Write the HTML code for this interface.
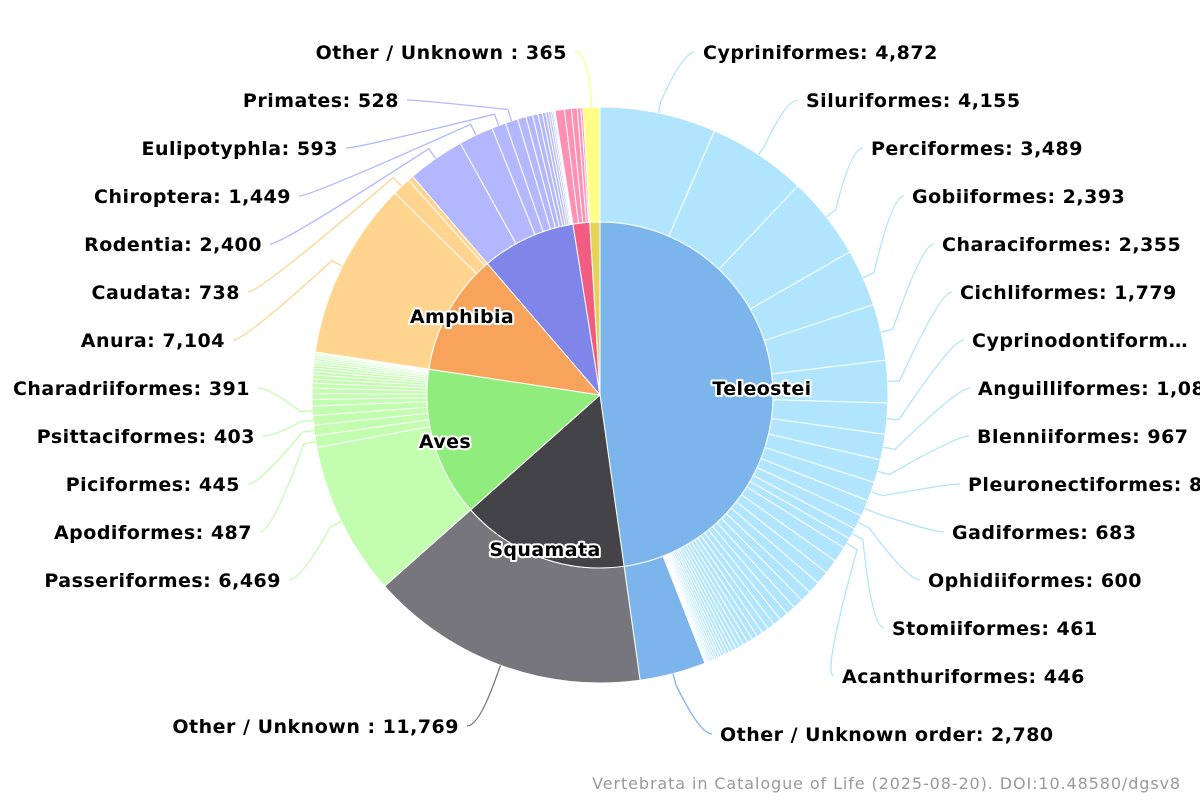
<!DOCTYPE html>
<html><head><meta charset="utf-8"><style>
html,body{margin:0;padding:0;background:#fff;overflow:hidden;}
svg{display:block;font-family:"DejaVu Sans","Liberation Sans",sans-serif;}
</style></head><body>
<svg id="s" width="1200" height="800" viewBox="0 0 1200 800" xmlns="http://www.w3.org/2000/svg"></svg>
<script>
const S=document.getElementById('s');const NS='http://www.w3.org/2000/svg';
const cx=600,cy=395,R0=173,R1=288;
function el(t,a,txt){const e=document.createElementNS(NS,t);for(const k in a)e.setAttribute(k,a[k]);if(txt!=null)e.textContent=txt;S.appendChild(e);return e;}
function pt(r,d){const a=d*Math.PI/180;return [cx+r*Math.sin(a),cy-r*Math.cos(a)];}
function arc(ri,ro,a0,a1,fill){
 const l=(a1-a0)>180?1:0;const p0=pt(ro,a0),p1=pt(ro,a1);
 let d;
 if(ri===0){d=`M${cx},${cy}L${p0}A${ro},${ro} 0 ${l} 1 ${p1}Z`;}
 else{const q1=pt(ri,a1),q0=pt(ri,a0);d=`M${p0}A${ro},${ro} 0 ${l} 1 ${p1}L${q1}A${ri},${ri} 0 ${l} 0 ${q0}Z`;}
 el('path',{d,fill,stroke:'#fff','stroke-width':1,'stroke-linejoin':'round'});
}
function geo(n,total,r){let v=[];for(let i=0;i<n;i++)v.push(Math.pow(r,i));const s=v.reduce((a,b)=>a+b);return v.map(x=>x*total/s);}
const groups=[
 {name:'Teleostei',a0:0,a1:172,c:'#7cb5ec',oc:'#b0e5fd',ch:[['Cypriniformes: 4,872',4872],['Siluriformes: 4,155',4155],['Perciformes: 3,489',3489],['Gobiiformes: 2,393',2393],['Characiformes: 2,355',2355],['Cichliformes: 1,779',1779],['Cyprinodontiform…',1300],['Anguilliformes: 1,080',1080],['Blenniiformes: 967',967],['Pleuronectiformes: 814',800],['Gadiformes: 683',683],['Ophidiiformes: 600',600],['Stomiiformes: 461',461],['Acanthuriformes: 446',446]].concat(geo(32,7600,0.92).map(v=>[null,v])).concat([['Other / Unknown order: 2,780',2780,'#7cb5ec']]),lab:[762,388]},
 {name:'Squamata',a0:172,a1:228.4,c:'#434348',oc:'#77767c',ch:[['Other / Unknown : 11,769',11769]],lab:[545,549]},
 {name:'Aves',a0:228.4,a1:278.6,c:'#90ed7d',oc:'#c3fdb0',ch:[['Passeriformes: 6,469',6469],['Apodiformes: 487',487],['Piciformes: 445',445],['Psittaciformes: 403',403],['Charadriiformes: 391',391]].concat(geo(16,2250,0.9).map(v=>[null,v])),lab:[445,441]},
 {name:'Amphibia',a0:278.6,a1:319.4,c:'#f7a35c',oc:'#fed48f',ch:[['Anura: 7,104',7104],['Caudata: 738',738],[null,219]],lab:[462,316]},
 {name:'',a0:319.4,a1:351,c:'#8085e9',oc:'#b3b8fe',ch:[['Rodentia: 2,400',2400],['Chiroptera: 1,449',1449],['Eulipotyphla: 593',593],['Primates: 528',528]].concat(geo(10,1580,0.8).map(v=>[null,v]))},
 {name:'',a0:351,a1:356.6,c:'#f15c80',oc:'#ff8fb3',ch:[[null,400],[null,300],[null,250],[null,150],[null,90]]},
 {name:'',a0:356.6,a1:360,c:'#e4d354',oc:'#ffff87',ch:[['Other / Unknown : 365',365]]}
];
const labelPos={
'Cypriniformes: 4,872':[703,52,'s'],'Siluriformes: 4,155':[806,100,'s'],'Perciformes: 3,489':[871,148,'s'],'Gobiiformes: 2,393':[912,196,'s'],'Characiformes: 2,355':[942,244,'s'],'Cichliformes: 1,779':[960,292,'s'],'Cyprinodontiform…':[972,340,'s'],'Anguilliformes: 1,080':[978,388,'s'],'Blenniiformes: 967':[977,436,'s'],'Pleuronectiformes: 814':[968,484,'s'],'Gadiformes: 683':[952,532,'s'],'Ophidiiformes: 600':[928,580,'s'],'Stomiiformes: 461':[892,628,'s'],'Acanthuriformes: 446':[842,676,'s'],'Other / Unknown order: 2,780':[720,734,'s'],
'Other / Unknown : 365':[567,52,'e'],'Primates: 528':[399,100,'e'],'Eulipotyphla: 593':[338,148,'e'],'Chiroptera: 1,449':[291,196,'e'],'Rodentia: 2,400':[262,244,'e'],'Caudata: 738':[240,292,'e'],'Anura: 7,104':[225,340,'e'],'Charadriiformes: 391':[250,388,'e'],'Psittaciformes: 403':[255,436,'e'],'Piciformes: 445':[240,484,'e'],'Apodiformes: 487':[252,532,'e'],'Passeriformes: 6,469':[281,580,'e'],'Other / Unknown : 11,769':[459,726,'e']};
const lines=[],texts=[];
groups.forEach(g=>{
 const tot=g.ch.reduce((a,b)=>a+b[1],0);let a=g.a0;
 g.ch.forEach(([n,v,col])=>{const b=a+(g.a1-g.a0)*v/tot;const fc=col||g.oc;arc(R0,R1,a,b,fc);
  if(n){const m=(a+b)/2;const p=pt(R1,m);const q=pt(R1+12,m);const L=labelPos[n];const tx=L[2]=='s'?L[0]-8:L[0]+8;const ex=L[2]=='s'?tx-12:tx+12;
   lines.push([`M${p}L${q}Q${ex},${L[1]} ${tx},${L[1]}`,fc]);texts.push([n,L]);}
  a=b;});
});
groups.forEach(g=>arc(0,R0,g.a0,g.a1,g.c));
lines.forEach(([d,c])=>el('path',{d,fill:'none',stroke:c==='#77767c'?'#777':c,'stroke-width':1.3}));
texts.forEach(([n,L])=>el('text',{x:L[0],y:L[1]+7,'font-size':19,'letter-spacing':0.5,'font-weight':'bold',fill:'#000','text-anchor':L[2]=='s'?'start':'end'},n));
groups.forEach(g=>{if(g.lab){el('text',{x:g.lab[0],y:g.lab[1]+7,'font-size':19,'letter-spacing':0.4,'font-weight':'bold','text-anchor':'middle',fill:'#000',stroke:'#fff','stroke-width':4,'stroke-linejoin':'round','paint-order':'stroke'},g.name);}});
el('text',{x:1181,y:789,'font-size':16,'letter-spacing':0.9,fill:'#999','text-anchor':'end'},'Vertebrata in Catalogue of Life (2025-08-20). DOI:10.48580/dgsv8');
</script>
</body></html>
